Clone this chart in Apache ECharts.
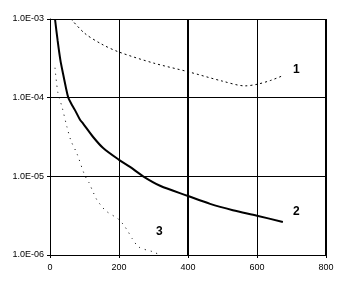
<!DOCTYPE html>
<html>
<head>
<meta charset="utf-8">
<script src="https://cdn.jsdelivr.net/npm/echarts@6/dist/echarts.min.js"></script>
<style>
html, body { margin: 0; padding: 0; background: #fff; }
#chart { width: 342px; height: 285px; }
</style>
</head>
<body>
<div id="chart"></div>
<script>
// curve data: [x, log10(value)]
var curve1X = [61, 100, 150, 200, 300, 400, 500, 565, 600, 640, 675];
var curve1Log = [-3.0, -3.18, -3.32, -3.42, -3.56, -3.67, -3.79, -3.85, -3.83, -3.78, -3.72];

var curve2X = [14.5, 22, 30, 38, 46, 53, 61, 72, 87, 96, 125, 154, 200, 232, 270, 319, 400, 464, 530, 600, 675];
var curve2Log = [-3.0, -3.27, -3.52, -3.7, -3.87, -4.0, -4.07, -4.155, -4.28, -4.33, -4.5, -4.64, -4.79, -4.88, -5.0, -5.12, -5.25, -5.35, -5.43, -5.5, -5.58];

var curve3X = [14.5, 23, 35, 49, 61, 78, 101, 113, 125, 136, 148, 162, 197, 212, 226, 238, 258, 299, 319];
var curve3Log = [-3.62, -3.94, -4.12, -4.37, -4.55, -4.71, -4.99, -5.08, -5.2, -5.3, -5.37, -5.44, -5.54, -5.61, -5.7, -5.79, -5.9, -5.96, -6.0];

var xTicks = [0, 200, 400, 600, 800];
var yTickLabels = ['1.0E-06', '1.0E-05', '1.0E-04', '1.0E-03'];

function pairs(xs, logs) {
    var out = [];
    for (var i = 0; i < xs.length; i++) {
        out.push([xs[i], Math.pow(10, logs[i])]);
    }
    return out;
}

var labelFont = { fontSize: 12, fontWeight: 'bold', color: '#000', fontFamily: 'Liberation Sans' };

var myChart = echarts.init(document.getElementById('chart'));

var option = {
    animation: false,
    backgroundColor: '#fff',
    grid: { left: 50, right: 16, top: 19, bottom: 30 },
    xAxis: {
        type: 'value',
        min: xTicks[0],
        max: xTicks[xTicks.length - 1],
        interval: 200,
        axisLine: { show: true, lineStyle: { color: '#000', width: 1 } },
        axisTick: { show: true, length: 3, lineStyle: { color: '#000' } },
        axisLabel: { color: '#000', fontSize: 9, fontFamily: 'Liberation Sans', margin: 8 },
        splitLine: { show: true, lineStyle: { color: '#000', width: 1 } }
    },
    yAxis: {
        type: 'log',
        min: 1e-6,
        max: 1e-3,
        logBase: 10,
        axisLine: { show: true, lineStyle: { color: '#000', width: 1 } },
        axisTick: { show: true, length: 3, lineStyle: { color: '#000' } },
        axisLabel: {
            color: '#000', fontSize: 9, fontFamily: 'Liberation Sans', margin: 6,
            formatter: function (v) {
                var e = Math.round(Math.log10(v));
                return yTickLabels[e + 6];
            }
        },
        splitLine: { show: true, lineStyle: { color: '#000', width: 1 } }
    },
    series: [
        {
            name: '1',
            type: 'line',
            showSymbol: false,
            data: pairs(curve1X, curve1Log),
            smooth: 0.3,
            lineStyle: { color: '#000', width: 1, type: [2, 3] },
            endLabel: Object.assign({ show: true, formatter: '1', offset: [2, -6] }, labelFont),
            markLine: {
                silent: true,
                symbol: 'none',
                label: { show: false },
                lineStyle: { color: '#000', width: 2, type: 'solid' },
                data: [{ xAxis: 400 }, { xAxis: 800 }]
            }
        },
        {
            name: '2',
            type: 'line',
            showSymbol: false,
            data: pairs(curve2X, curve2Log),
            smooth: 0.3,
            lineStyle: { color: '#000', width: 2 },
            endLabel: Object.assign({ show: true, formatter: '2', offset: [2, -10] }, labelFont)
        },
        {
            name: '3',
            type: 'line',
            showSymbol: false,
            data: pairs(curve3X, curve3Log),
            smooth: 0.3,
            lineStyle: { color: '#000', width: 1, type: [1, 5] },
            markPoint: {
                symbol: 'circle',
                symbolSize: 0,
                label: Object.assign({ show: true, formatter: '3', position: 'inside' }, labelFont),
                data: [{ coord: [317, Math.pow(10, -5.7)] }]
            }
        }
    ]
};

myChart.setOption(option, true);
</script>
</body>
</html>
